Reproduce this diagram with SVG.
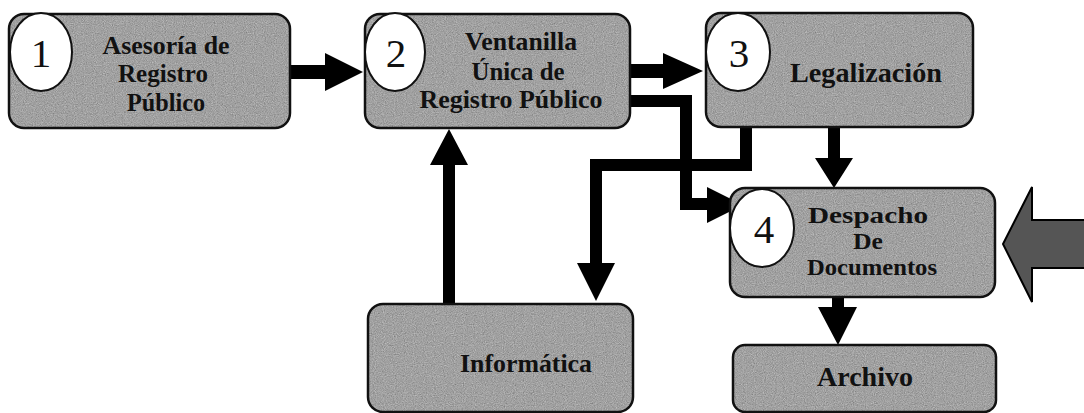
<svg xmlns="http://www.w3.org/2000/svg" width="1084" height="413" viewBox="0 0 1084 413">
  <defs>
    <!-- grainy gray fill for the process boxes -->
    <filter id="grain" x="0" y="0" width="100%" height="100%" color-interpolation-filters="sRGB">
      <feTurbulence type="fractalNoise" baseFrequency="0.9" numOctaves="2" seed="7" result="noise"/>
      <feColorMatrix in="noise" type="matrix" values="0.33 0.33 0.33 0 0  0.33 0.33 0.33 0 0  0.33 0.33 0.33 0 0  0 0 0 0 1" result="gray"/>
      <feComposite in="gray" in2="SourceGraphic" operator="arithmetic" k1="0" k2="0.55" k3="0.75" k4="-0.12" result="mix"/>
      <feComposite in="mix" in2="SourceAlpha" operator="in"/>
    </filter>
    <style>
      .fill { fill: #a2a2a2; filter: url(#grain); }
      .edge { fill: none; stroke: #111; stroke-width: 2.5; }
      .num-bg { fill: #fff; stroke: #111; stroke-width: 2; }
      .num { font-family: "Liberation Serif", "Times New Roman", serif; font-size: 41px; fill: #111; text-anchor: middle; }
      .lbl { font-family: "Liberation Serif", "Times New Roman", serif; font-weight: bold; fill: #111; text-anchor: middle; }
      .arrow { fill: #000; }
      .big { fill: #555; stroke: #000; stroke-width: 2; stroke-linejoin: miter; }
    </style>
  </defs>

  <rect width="1084" height="413" fill="#fff"/>

  <!-- connectors -->
  <g id="connectors">
    <polygon class="arrow" points="290,65 325,65 325,53 363,72 325,91 325,79 290,79"/>
    <polygon class="arrow" points="630,64 663,64 663,53 703,71 663,89 663,78 630,78"/>
    <polygon class="arrow" points="630,95 692,95 692,198 707,198 707,187 743,205 707,223 707,210 680,210 680,107 630,107"/>
    <polygon class="arrow" points="740,126 752,126 752,171 602,171 602,263 615,263 596,301 577,263 590,263 590,159 740,159"/>
    <polygon class="arrow" points="443,304 443,165 430,165 449,129 468,165 455,165 455,304"/>
    <polygon class="arrow" points="828,126 840,126 840,158 853,158 834,188 815,158 828,158"/>
    <polygon class="arrow" points="832,296 844,296 844,307 857,307 838,345 818,307 832,307"/>
    <polygon class="big" points="1090,220 1032,220 1032,187 1003,244 1032,302 1032,268 1090,268"/>
  </g>

  <!-- 1: Asesoría de Registro Público -->
  <g id="node-asesoria">
    <rect class="fill" x="9" y="14" width="281" height="114" rx="15"/>
    <rect class="edge" x="9" y="14" width="281" height="114" rx="15"/>
    <ellipse class="num-bg" cx="41" cy="52" rx="31" ry="39"/>
    <text class="num" x="41" y="67">1</text>
    <text class="lbl" font-size="25" x="166" y="54" textLength="127" lengthAdjust="spacingAndGlyphs">Asesoría de</text>
    <text class="lbl" font-size="25" x="163" y="82" textLength="90" lengthAdjust="spacingAndGlyphs">Registro</text>
    <text class="lbl" font-size="25" x="166" y="111" textLength="78" lengthAdjust="spacingAndGlyphs">Público</text>
  </g>

  <!-- 2: Ventanilla Única de Registro Público -->
  <g id="node-ventanilla">
    <rect class="fill" x="365" y="14" width="265" height="114" rx="15"/>
    <rect class="edge" x="365" y="14" width="265" height="114" rx="15"/>
    <ellipse class="num-bg" cx="395" cy="52" rx="30" ry="39"/>
    <text class="num" x="396" y="67">2</text>
    <text class="lbl" font-size="25" x="521" y="50" textLength="112" lengthAdjust="spacingAndGlyphs">Ventanilla</text>
    <text class="lbl" font-size="25" x="518" y="80" textLength="93" lengthAdjust="spacingAndGlyphs">Única de</text>
    <text class="lbl" font-size="25" x="511" y="108" textLength="183" lengthAdjust="spacingAndGlyphs">Registro Público</text>
  </g>

  <!-- 3: Legalización -->
  <g id="node-legalizacion">
    <rect class="fill" x="706" y="13" width="267" height="114" rx="15"/>
    <rect class="edge" x="706" y="13" width="267" height="114" rx="15"/>
    <ellipse class="num-bg" cx="738" cy="52" rx="32" ry="39"/>
    <text class="num" x="739" y="67">3</text>
    <text class="lbl" font-size="27" x="866" y="82" textLength="152" lengthAdjust="spacingAndGlyphs">Legalización</text>
  </g>

  <!-- 4: Despacho De Documentos -->
  <g id="node-despacho">
    <rect class="fill" x="730" y="188" width="265" height="109" rx="15"/>
    <rect class="edge" x="730" y="188" width="265" height="109" rx="15"/>
    <ellipse class="num-bg" cx="762" cy="228" rx="32" ry="39"/>
    <text class="num" x="764" y="243">4</text>
    <text class="lbl" font-size="24" x="868" y="223" textLength="120" lengthAdjust="spacingAndGlyphs">Despacho</text>
    <text class="lbl" font-size="24" x="868" y="249" textLength="30" lengthAdjust="spacingAndGlyphs">De</text>
    <text class="lbl" font-size="24" x="872" y="275" textLength="130" lengthAdjust="spacingAndGlyphs">Documentos</text>
  </g>

  <!-- Informática -->
  <g id="node-informatica">
    <rect class="fill" x="368" y="304" width="265" height="108" rx="15"/>
    <rect class="edge" x="368" y="304" width="265" height="108" rx="15"/>
    <text class="lbl" font-size="25" x="526" y="372" textLength="132" lengthAdjust="spacingAndGlyphs">Informática</text>
  </g>

  <!-- Archivo -->
  <g id="node-archivo">
    <rect class="fill" x="733" y="345" width="263" height="67" rx="12"/>
    <rect class="edge" x="733" y="345" width="263" height="67" rx="12"/>
    <text class="lbl" font-size="27" x="865" y="386" textLength="96" lengthAdjust="spacingAndGlyphs">Archivo</text>
  </g>
</svg>
